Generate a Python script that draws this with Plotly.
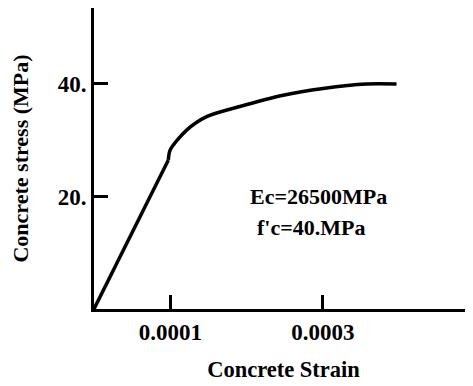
import plotly.graph_objects as go

strain = [0.0, 0.0000975, 0.0001, 0.0001215, 0.0001477, 0.0001913, 0.0002481, 0.0003005, 0.0003574, 0.0003967]
stress = [0.0, 26.5, 28.3, 31.8, 34.2, 36.0, 38.0, 39.2, 40.0, 40.0]

x_tick_vals = [0.0001, 0.0003]
x_tick_text = ["0.0001", "0.0003"]
y_tick_vals = [20, 40]
y_tick_text = ["20.", "40."]

notes = ["Ec=26500MPa", "f'c=40.MPa"]

FONT = "Liberation Serif"

fig = go.Figure()
# linear elastic part
fig.add_trace(go.Scatter(x=strain[:2], y=stress[:2], mode="lines",
                         line=dict(color="black", width=3.5), showlegend=False,
                         hoverinfo="skip"))
# curved part
fig.add_trace(go.Scatter(x=strain[1:], y=stress[1:], mode="lines",
                         line=dict(color="black", width=3.5, shape="spline", smoothing=0.8),
                         showlegend=False, hoverinfo="skip"))

fig.add_annotation(x=0.000294, y=20.0, text="<b>" + notes[0] + "</b>", showarrow=False,
                   font=dict(family=FONT, size=22, color="black"))
fig.add_annotation(x=0.000284, y=14.4, text="<b>" + notes[1] + "</b>", showarrow=False,
                   font=dict(family=FONT, size=22, color="black"))

fig.update_layout(
    width=465, height=378,
    margin=dict(l=86, r=0, t=0, b=77),
    paper_bgcolor="white", plot_bgcolor="white",
    font=dict(family=FONT, size=20, color="black"),
    xaxis=dict(range=[0, 0.000497], tickvals=x_tick_vals, ticktext=["<b>%s</b>" % t for t in x_tick_text],
               ticks="inside", ticklen=14, tickwidth=3, tickcolor="black",
               showline=True, linewidth=3, linecolor="black",
               showgrid=False, zeroline=False, automargin=False,
               tickfont=dict(family=FONT, size=23),
               title=dict(text="<b>Concrete Strain</b>", font=dict(family=FONT, size=22.5), standoff=18)),
    yaxis=dict(range=[0, 53.5], tickvals=y_tick_vals, ticktext=["<b>%s</b>" % t for t in y_tick_text],
               ticks="inside", ticklen=14, tickwidth=3, tickcolor="black",
               showline=True, linewidth=3, linecolor="black",
               showgrid=False, zeroline=False, automargin=False,
               tickfont=dict(family=FONT, size=23),
               title=dict(text="<b>Concrete stress (MPa)</b>", font=dict(family=FONT, size=22), standoff=25)),
)

fig.write_html("out.html")
